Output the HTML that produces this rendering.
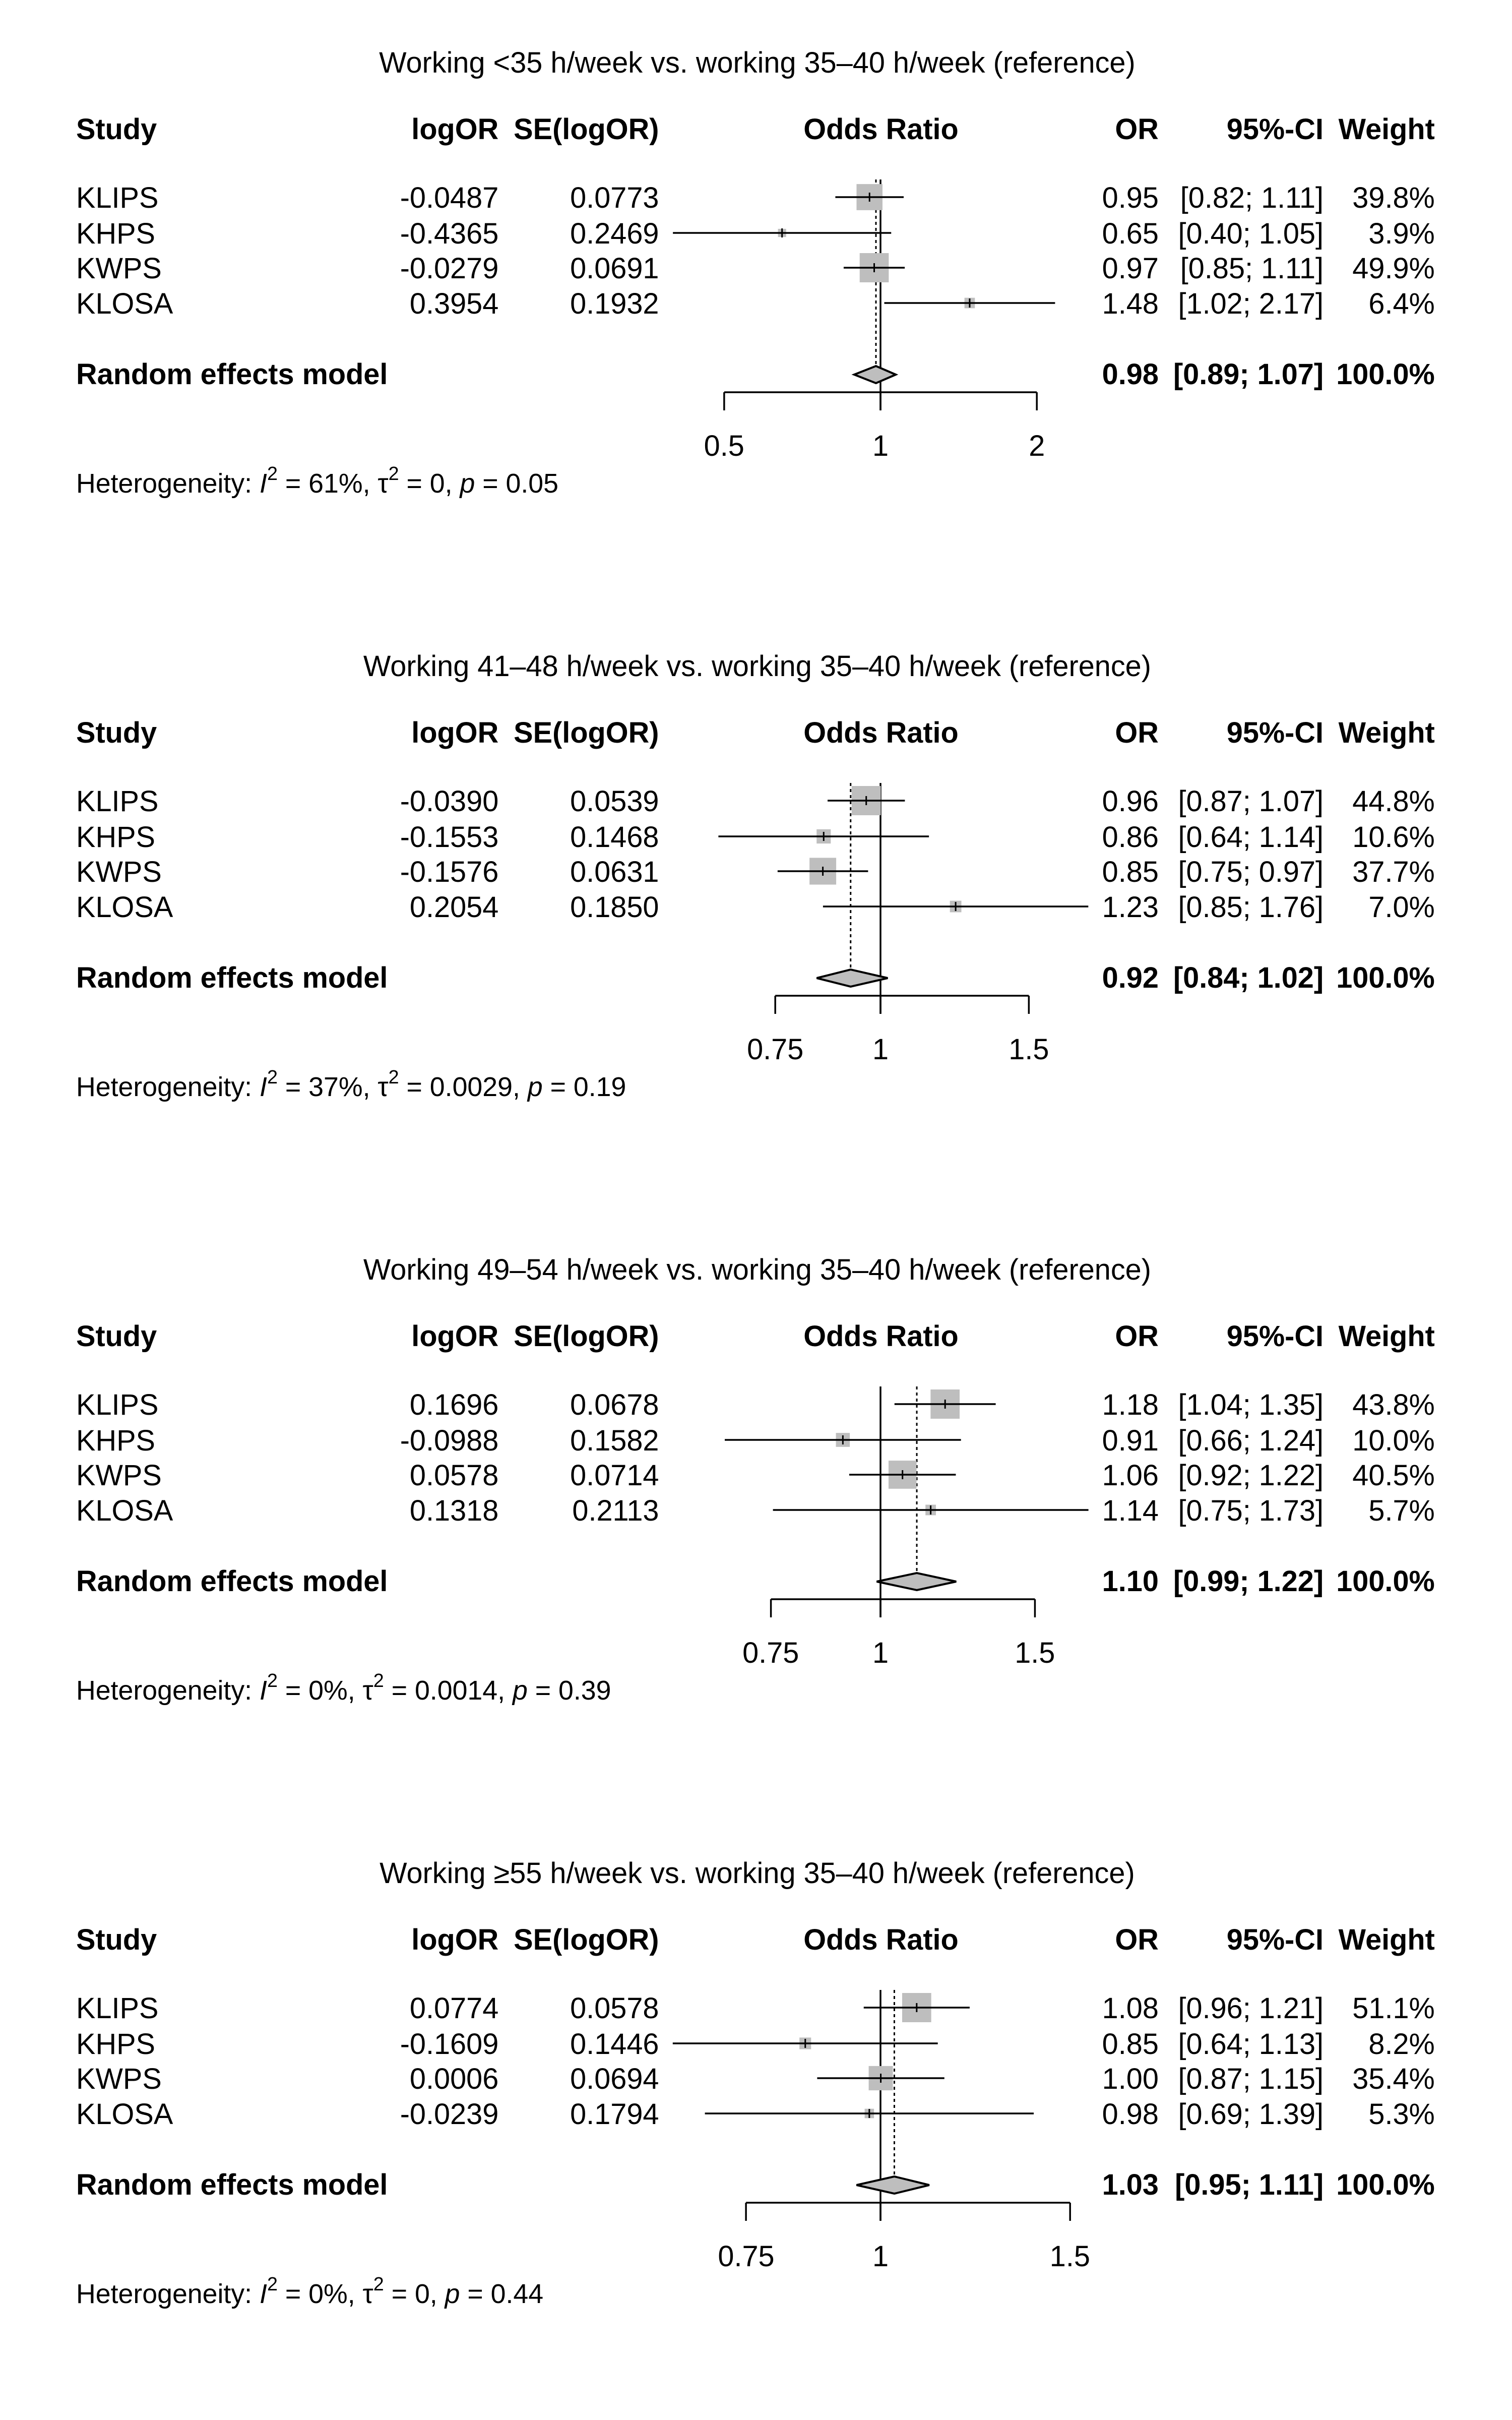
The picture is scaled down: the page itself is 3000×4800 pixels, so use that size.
<!DOCTYPE html>
<html><head><meta charset="utf-8"><style>
html,body{margin:0;padding:0;background:#fff;}
svg{display:block;}
text{font-family:"Liberation Sans",Arial,sans-serif;font-size:58px;fill:#000;}
.b{font-weight:bold;}
.h{font-size:54px;}
</style></head><body>
<svg id="s" width="3000" height="4800" viewBox="0 0 3000 4800" xmlns="http://www.w3.org/2000/svg">
<g transform="translate(0.85,0) scale(0.9944,1)">
<g id="shapes"></g>

<!-- Panel 1 -->
<g transform="translate(0,0)">
<text x="1510" y="144" text-anchor="middle">Working &lt;35 h/week vs. working 35–40 h/week (reference)</text>
<text class="b" x="151" y="276">Study</text><text class="b" x="994" y="276" text-anchor="end">logOR</text><text class="b" x="1314" y="276" text-anchor="end">SE(logOR)</text><text class="b" x="1757" y="276" text-anchor="middle">Odds Ratio</text><text class="b" x="2311" y="276" text-anchor="end">OR</text><text class="b" x="2640" y="276" text-anchor="end">95%-CI</text><text class="b" x="2862" y="276" text-anchor="end">Weight</text>
<text x="151" y="412">KLIPS</text><text x="994" y="412" text-anchor="end">-0.0487</text><text x="1314" y="412" text-anchor="end">0.0773</text><text x="2311" y="412" text-anchor="end">0.95</text><text x="2640" y="412" text-anchor="end">[0.82; 1.11]</text><text x="2862" y="412" text-anchor="end">39.8%</text>
<text x="151" y="483">KHPS</text><text x="994" y="483" text-anchor="end">-0.4365</text><text x="1314" y="483" text-anchor="end">0.2469</text><text x="2311" y="483" text-anchor="end">0.65</text><text x="2640" y="483" text-anchor="end">[0.40; 1.05]</text><text x="2862" y="483" text-anchor="end">3.9%</text>
<text x="151" y="552">KWPS</text><text x="994" y="552" text-anchor="end">-0.0279</text><text x="1314" y="552" text-anchor="end">0.0691</text><text x="2311" y="552" text-anchor="end">0.97</text><text x="2640" y="552" text-anchor="end">[0.85; 1.11]</text><text x="2862" y="552" text-anchor="end">49.9%</text>
<text x="151" y="622">KLOSA</text><text x="994" y="622" text-anchor="end">0.3954</text><text x="1314" y="622" text-anchor="end">0.1932</text><text x="2311" y="622" text-anchor="end">1.48</text><text x="2640" y="622" text-anchor="end">[1.02; 2.17]</text><text x="2862" y="622" text-anchor="end">6.4%</text>
<text class="b" x="151" y="762">Random effects model</text><text class="b" x="2311" y="762" text-anchor="end">0.98</text><text class="b" x="2640" y="762" text-anchor="end">[0.89; 1.07]</text><text class="b" x="2862" y="762" text-anchor="end">100.0%</text>
<text x="1444" y="904" text-anchor="middle">0.5</text><text x="1756" y="904" text-anchor="middle">1</text><text x="2068" y="904" text-anchor="middle">2</text>
<text class="h" x="151" y="977">Heterogeneity: <tspan font-style="italic">I</tspan><tspan font-size="38" dy="-25">2</tspan><tspan dy="25"> = 61%, τ</tspan><tspan font-size="38" dy="-25">2</tspan><tspan dy="25"> = 0, </tspan><tspan font-style="italic">p</tspan> = 0.05</text>
</g>

<!-- Panel 2 -->
<g transform="translate(0,1197)">
<text x="1510" y="144" text-anchor="middle">Working 41–48 h/week vs. working 35–40 h/week (reference)</text>
<text class="b" x="151" y="276">Study</text><text class="b" x="994" y="276" text-anchor="end">logOR</text><text class="b" x="1314" y="276" text-anchor="end">SE(logOR)</text><text class="b" x="1757" y="276" text-anchor="middle">Odds Ratio</text><text class="b" x="2311" y="276" text-anchor="end">OR</text><text class="b" x="2640" y="276" text-anchor="end">95%-CI</text><text class="b" x="2862" y="276" text-anchor="end">Weight</text>
<text x="151" y="412">KLIPS</text><text x="994" y="412" text-anchor="end">-0.0390</text><text x="1314" y="412" text-anchor="end">0.0539</text><text x="2311" y="412" text-anchor="end">0.96</text><text x="2640" y="412" text-anchor="end">[0.87; 1.07]</text><text x="2862" y="412" text-anchor="end">44.8%</text>
<text x="151" y="483">KHPS</text><text x="994" y="483" text-anchor="end">-0.1553</text><text x="1314" y="483" text-anchor="end">0.1468</text><text x="2311" y="483" text-anchor="end">0.86</text><text x="2640" y="483" text-anchor="end">[0.64; 1.14]</text><text x="2862" y="483" text-anchor="end">10.6%</text>
<text x="151" y="552">KWPS</text><text x="994" y="552" text-anchor="end">-0.1576</text><text x="1314" y="552" text-anchor="end">0.0631</text><text x="2311" y="552" text-anchor="end">0.85</text><text x="2640" y="552" text-anchor="end">[0.75; 0.97]</text><text x="2862" y="552" text-anchor="end">37.7%</text>
<text x="151" y="622">KLOSA</text><text x="994" y="622" text-anchor="end">0.2054</text><text x="1314" y="622" text-anchor="end">0.1850</text><text x="2311" y="622" text-anchor="end">1.23</text><text x="2640" y="622" text-anchor="end">[0.85; 1.76]</text><text x="2862" y="622" text-anchor="end">7.0%</text>
<text class="b" x="151" y="762">Random effects model</text><text class="b" x="2311" y="762" text-anchor="end">0.92</text><text class="b" x="2640" y="762" text-anchor="end">[0.84; 1.02]</text><text class="b" x="2862" y="762" text-anchor="end">100.0%</text>
<text x="1546" y="904" text-anchor="middle">0.75</text><text x="1756" y="904" text-anchor="middle">1</text><text x="2052" y="904" text-anchor="middle">1.5</text>
<text class="h" x="151" y="977">Heterogeneity: <tspan font-style="italic">I</tspan><tspan font-size="38" dy="-25">2</tspan><tspan dy="25"> = 37%, τ</tspan><tspan font-size="38" dy="-25">2</tspan><tspan dy="25"> = 0.0029, </tspan><tspan font-style="italic">p</tspan> = 0.19</text>
</g>

<!-- Panel 3 -->
<g transform="translate(0,2394)">
<text x="1510" y="144" text-anchor="middle">Working 49–54 h/week vs. working 35–40 h/week (reference)</text>
<text class="b" x="151" y="276">Study</text><text class="b" x="994" y="276" text-anchor="end">logOR</text><text class="b" x="1314" y="276" text-anchor="end">SE(logOR)</text><text class="b" x="1757" y="276" text-anchor="middle">Odds Ratio</text><text class="b" x="2311" y="276" text-anchor="end">OR</text><text class="b" x="2640" y="276" text-anchor="end">95%-CI</text><text class="b" x="2862" y="276" text-anchor="end">Weight</text>
<text x="151" y="412">KLIPS</text><text x="994" y="412" text-anchor="end">0.1696</text><text x="1314" y="412" text-anchor="end">0.0678</text><text x="2311" y="412" text-anchor="end">1.18</text><text x="2640" y="412" text-anchor="end">[1.04; 1.35]</text><text x="2862" y="412" text-anchor="end">43.8%</text>
<text x="151" y="483">KHPS</text><text x="994" y="483" text-anchor="end">-0.0988</text><text x="1314" y="483" text-anchor="end">0.1582</text><text x="2311" y="483" text-anchor="end">0.91</text><text x="2640" y="483" text-anchor="end">[0.66; 1.24]</text><text x="2862" y="483" text-anchor="end">10.0%</text>
<text x="151" y="552">KWPS</text><text x="994" y="552" text-anchor="end">0.0578</text><text x="1314" y="552" text-anchor="end">0.0714</text><text x="2311" y="552" text-anchor="end">1.06</text><text x="2640" y="552" text-anchor="end">[0.92; 1.22]</text><text x="2862" y="552" text-anchor="end">40.5%</text>
<text x="151" y="622">KLOSA</text><text x="994" y="622" text-anchor="end">0.1318</text><text x="1314" y="622" text-anchor="end">0.2113</text><text x="2311" y="622" text-anchor="end">1.14</text><text x="2640" y="622" text-anchor="end">[0.75; 1.73]</text><text x="2862" y="622" text-anchor="end">5.7%</text>
<text class="b" x="151" y="762">Random effects model</text><text class="b" x="2311" y="762" text-anchor="end">1.10</text><text class="b" x="2640" y="762" text-anchor="end">[0.99; 1.22]</text><text class="b" x="2862" y="762" text-anchor="end">100.0%</text>
<text x="1537" y="904" text-anchor="middle">0.75</text><text x="1756" y="904" text-anchor="middle">1</text><text x="2064" y="904" text-anchor="middle">1.5</text>
<text class="h" x="151" y="977">Heterogeneity: <tspan font-style="italic">I</tspan><tspan font-size="38" dy="-25">2</tspan><tspan dy="25"> = 0%, τ</tspan><tspan font-size="38" dy="-25">2</tspan><tspan dy="25"> = 0.0014, </tspan><tspan font-style="italic">p</tspan> = 0.39</text>
</g>

<!-- Panel 4 -->
<g transform="translate(0,3591)">
<text x="1510" y="144" text-anchor="middle">Working ≥55 h/week vs. working 35–40 h/week (reference)</text>
<text class="b" x="151" y="276">Study</text><text class="b" x="994" y="276" text-anchor="end">logOR</text><text class="b" x="1314" y="276" text-anchor="end">SE(logOR)</text><text class="b" x="1757" y="276" text-anchor="middle">Odds Ratio</text><text class="b" x="2311" y="276" text-anchor="end">OR</text><text class="b" x="2640" y="276" text-anchor="end">95%-CI</text><text class="b" x="2862" y="276" text-anchor="end">Weight</text>
<text x="151" y="412">KLIPS</text><text x="994" y="412" text-anchor="end">0.0774</text><text x="1314" y="412" text-anchor="end">0.0578</text><text x="2311" y="412" text-anchor="end">1.08</text><text x="2640" y="412" text-anchor="end">[0.96; 1.21]</text><text x="2862" y="412" text-anchor="end">51.1%</text>
<text x="151" y="483">KHPS</text><text x="994" y="483" text-anchor="end">-0.1609</text><text x="1314" y="483" text-anchor="end">0.1446</text><text x="2311" y="483" text-anchor="end">0.85</text><text x="2640" y="483" text-anchor="end">[0.64; 1.13]</text><text x="2862" y="483" text-anchor="end">8.2%</text>
<text x="151" y="552">KWPS</text><text x="994" y="552" text-anchor="end">0.0006</text><text x="1314" y="552" text-anchor="end">0.0694</text><text x="2311" y="552" text-anchor="end">1.00</text><text x="2640" y="552" text-anchor="end">[0.87; 1.15]</text><text x="2862" y="552" text-anchor="end">35.4%</text>
<text x="151" y="622">KLOSA</text><text x="994" y="622" text-anchor="end">-0.0239</text><text x="1314" y="622" text-anchor="end">0.1794</text><text x="2311" y="622" text-anchor="end">0.98</text><text x="2640" y="622" text-anchor="end">[0.69; 1.39]</text><text x="2862" y="622" text-anchor="end">5.3%</text>
<text class="b" x="151" y="762">Random effects model</text><text class="b" x="2311" y="762" text-anchor="end">1.03</text><text class="b" x="2640" y="762" text-anchor="end">[0.95; 1.11]</text><text class="b" x="2862" y="762" text-anchor="end">100.0%</text>
<text x="1488" y="904" text-anchor="middle">0.75</text><text x="1756" y="904" text-anchor="middle">1</text><text x="2134" y="904" text-anchor="middle">1.5</text>
<text class="h" x="151" y="977">Heterogeneity: <tspan font-style="italic">I</tspan><tspan font-size="38" dy="-25">2</tspan><tspan dy="25"> = 0%, τ</tspan><tspan font-size="38" dy="-25">2</tspan><tspan dy="25"> = 0, </tspan><tspan font-style="italic">p</tspan> = 0.44</text>
</g>
</g>
</svg>
<script>
(function(){
var NS="http://www.w3.org/2000/svg",g=document.getElementById("shapes");
function el(n,a){var e=document.createElementNS(NS,n);for(var k in a)e.setAttribute(k,a[k]);g.appendChild(e);return e;}
var P=[
 {k:450,lo:0.5,hi:2,re:[0.98,0.89,1.07],s:[[-0.0487,0.0773,39.8],[-0.4365,0.2469,3.9],[-0.0279,0.0691,49.9],[0.3954,0.1932,6.4]]},
 {k:730,lo:0.75,hi:1.5,re:[0.9216,0.84,1.02],s:[[-0.0390,0.0539,44.8],[-0.1553,0.1468,10.6],[-0.1576,0.0631,37.7],[0.2054,0.1850,7.0]]},
 {k:760,lo:0.75,hi:1.5,re:[1.10,0.99,1.22],s:[[0.1696,0.0678,43.8],[-0.0988,0.1582,10.0],[0.0578,0.0714,40.5],[0.1318,0.2113,5.7]]},
 {k:933,lo:0.75,hi:1.5,re:[1.03,0.95,1.11],s:[[0.0774,0.0578,51.1],[-0.1609,0.1446,8.2],[0.0006,0.0694,35.4],[-0.0239,0.1794,5.3]]}
];
var X0=1756,rows=[391,462,531,601];
P.forEach(function(p,i){
 var o=i*1197,X=function(v){return X0+p.k*v;};
 var wmax=Math.max.apply(null,p.s.map(function(r){return r[2];}));
 var rx=X(Math.log(p.re[0]));
 el("line",{x1:X0,y1:o+356,x2:X0,y2:o+814,stroke:"#000","stroke-width":3.5});
 el("line",{x1:rx,y1:o+356,x2:rx,y2:o+726,stroke:"#000","stroke-width":3,"stroke-dasharray":"6 6"});
 p.s.forEach(function(r,j){
  var y=o+rows[j],c=X(r[0]),a=X(r[0]-1.96*r[1]),b=X(r[0]+1.96*r[1]);
  var sz=58*Math.sqrt(r[2]/wmax);
  el("rect",{x:c-sz/2,y:y-sz/2,width:sz,height:sz,fill:"#bebebe"});
  el("line",{x1:a,y1:y,x2:b,y2:y,stroke:"#000","stroke-width":3.5});
  el("line",{x1:c,y1:y-9,x2:c,y2:y+9,stroke:"#000","stroke-width":3});
 });
 var y=o+743,l=X(Math.log(p.re[1])),h=X(Math.log(p.re[2]));
 el("polygon",{points:l+","+y+" "+rx+","+(y-17)+" "+h+","+y+" "+rx+","+(y+17),fill:"#bebebe",stroke:"#000","stroke-width":4});
 var ax=o+778,L=X(Math.log(p.lo)),H=X(Math.log(p.hi));
 el("line",{x1:L,y1:ax,x2:H,y2:ax,stroke:"#000","stroke-width":3.5});
 [L,X0,H].forEach(function(t){el("line",{x1:t,y1:ax,x2:t,y2:ax+36,stroke:"#000","stroke-width":3.5});});
});
})();
</script>
</body></html>
